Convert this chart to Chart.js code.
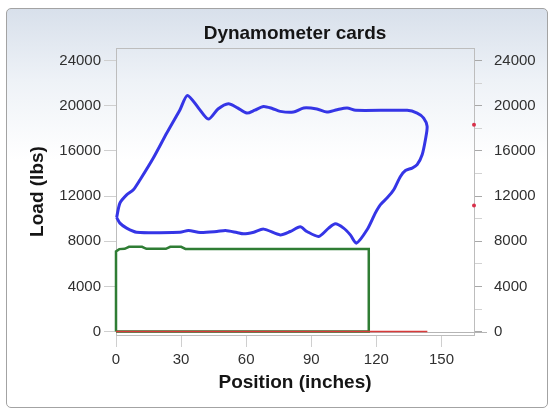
<!DOCTYPE html>
<html>
<head>
<meta charset="utf-8">
<title>Dynamometer cards</title>
<script src="https://cdn.jsdelivr.net/npm/chart.js@4.4.1/dist/chart.umd.min.js"></script>
<style>
  html, body { margin: 0; padding: 0; background: #ffffff; }
  #wrap { position: relative; width: 553px; height: 410px; overflow: hidden; }
  #panel {
    position: absolute; left: 6px; top: 8px; width: 540px; height: 398px;
    border: 1px solid #a3a3a3; border-radius: 5px;
    background: linear-gradient(to bottom, #d8e0eb 0%, #eef2f7 18%, #ffffff 38%, #ffffff 100%);
  }
  #chart { position: absolute; left: 0; top: 0; }
</style>
</head>
<body>
<div id="wrap">
  <div id="panel"></div>
  <canvas id="chart" width="553" height="410"></canvas>
</div>
<script>
    // Surface card (blue), traced around the loop
    const surfacePos = [0.3, 1.8, 4.9, 8.0, 11.1, 17.2, 23.4, 29.5, 32.9, 38.0, 42.6, 47.0, 51.8, 56.0,
        60.3, 64.0, 68.0, 72.0, 75.7, 81.8, 86.5, 92.6, 97.2, 101.9, 106.5, 110.5, 134.2, 138.8,
        141.8, 143.4, 142.6, 141.1, 138.8, 136.5, 133.4, 131.1, 128.0, 124.9, 121.8, 119.5, 115.7,
        110.8, 108.0, 104.9, 101.1, 98.0, 93.4, 88.0, 84.9, 80.3, 75.7, 68.0, 63.5, 58.8, 55.7,
        50.5, 46.5, 38.8, 33.4, 29.5, 9.5, 4.9, 1.8, 0.3];
    const surfaceLoad = [10100, 11370, 12100, 12550, 13440, 15360, 17570, 19640, 20900, 19800, 18810, 19700, 20170, 19800,
        19340, 19600, 19930, 19750, 19490, 19430, 19790, 19700, 19430, 19640, 19790, 19580, 19580, 19340,
        18900, 18160, 16980, 15650, 14770, 14470, 14260, 13730, 12550, 11820, 11220, 10490, 9010,
        7830, 8560, 9160, 9540, 9160, 8420, 8860, 9270, 8860, 8560, 9070, 8800, 8650, 8770,
        8950, 8860, 8770, 8950, 8800, 8800, 9160, 9600, 10100];

    // Pump card (green)
    const pumpPos = [0, 0, 1.5, 4, 6, 12, 14, 23, 25, 30, 32, 116.5, 116.5, 0];
    const pumpLoad = [0, 7100, 7300, 7330, 7500, 7500, 7330, 7330, 7500, 7500, 7320, 7320, 0, 0];

    // Red trace along zero load
    const redPos = [0, 143.5];
    const redLoad = [0, 0];

    // Red markers on the right edge
    const markerPos = [165, 165];
    const markerLoad = [18300, 11150];

    const xTicks = [0, 30, 60, 90, 120, 150];
    const yTicks = [0, 4000, 8000, 12000, 16000, 20000, 24000];

    const toPoints = (xs, ys) => xs.map((x, i) => ({ x: x, y: ys[i] }));

    // right axis: minor ticks every 1000, labels on the 4000 steps
    const yMinorTicks = [];
    for (let v = 0; v <= 25000; v += 1000) yMinorTicks.push(v);

    Chart.defaults.font.family = "'Liberation Sans', Arial, sans-serif";
    const tickFont = { size: 15 };
    const tickColor = "#303030";

    // frame around the plot and the zero line running past it
    const framePlugin = {
        id: "frame",
        beforeDatasetsDraw(chart) {
            const { ctx, chartArea } = chart;
            const y0 = chart.scales.y.getPixelForValue(0);
            ctx.save();
            ctx.strokeStyle = "#bdbdbd";
            ctx.lineWidth = 1;
            ctx.strokeRect(chartArea.left + 0.5, chartArea.top + 0.5,
                chartArea.right - chartArea.left, chartArea.bottom - chartArea.top);
            ctx.strokeStyle = "#b5b5b5";
            ctx.beginPath();
            ctx.moveTo(chartArea.left, Math.round(y0) + 0.5);
            ctx.lineTo(chartArea.right + 13, Math.round(y0) + 0.5);
            ctx.stroke();
            ctx.restore();
        },
        afterDraw(chart) {
            const { ctx, chartArea } = chart;
            ctx.save();
            ctx.fillStyle = "#151515";
            ctx.font = "bold 19px 'Liberation Sans', Arial, sans-serif";
            ctx.textAlign = "center";
            ctx.textBaseline = "middle";
            ctx.fillText("Dynamometer cards", (chartArea.left + chartArea.right) / 2, 34);
            ctx.restore();
        }
    };

    new Chart(document.getElementById("chart").getContext("2d"), {
        type: "scatter",
        data: {
            datasets: [
                {
                    label: "Markers",
                    data: toPoints(markerPos, markerLoad),
                    showLine: false,
                    pointRadius: 2,
                    pointBackgroundColor: "#d8304a",
                    pointBorderWidth: 0,
                    clip: false
                },
                {
                    label: "Zero",
                    data: toPoints(redPos, redLoad),
                    showLine: true,
                    borderColor: "#d83a3a",
                    borderWidth: 1.5,
                    pointRadius: 0
                },
                {
                    label: "Surface card",
                    data: toPoints(surfacePos, surfaceLoad),
                    showLine: true,
                    borderColor: "#3535e6",
                    borderWidth: 3,
                    tension: 0.25,
                    pointRadius: 0,
                    clip: 2
                },
                {
                    label: "Pump card",
                    data: toPoints(pumpPos, pumpLoad),
                    showLine: true,
                    borderColor: "#2f7d34",
                    borderWidth: 2.5,
                    pointRadius: 0,
                    clip: 3
                }
            ]
        },
        options: {
            responsive: false,
            animation: false,
            layout: { padding: { top: 48, left: 0, right: 0, bottom: 0 } },
            plugins: {
                legend: { display: false },
                tooltip: { enabled: false },
                title: { display: false }
            },
            scales: {
                x: {
                    type: "linear",
                    min: 0,
                    max: 165,
                    afterBuildTicks: s => { s.ticks = xTicks.map(v => ({ value: v })); },
                    afterFit: s => { s.height = 75; },
                    grid: { drawOnChartArea: false, tickLength: 12, color: "#cfcfcf" },
                    border: { display: false },
                    ticks: { padding: 4, font: tickFont, color: tickColor, callback: v => String(v) },
                    title: {
                        display: true,
                        text: "Position (inches)",
                        color: "#151515",
                        font: { size: 19, weight: "bold" },
                        padding: { top: 0, bottom: 16 }
                    }
                },
                y: {
                    type: "linear",
                    position: "left",
                    min: -300,
                    max: 25100,
                    afterBuildTicks: s => { s.ticks = yTicks.map(v => ({ value: v })); },
                    afterFit: s => { s.width = 116; },
                    grid: { drawOnChartArea: false, tickLength: 12, color: "#cfcfcf" },
                    border: { display: false },
                    ticks: { padding: 3, font: tickFont, color: tickColor, callback: v => String(v) },
                    title: {
                        display: true,
                        text: "Load (lbs)",
                        color: "#151515",
                        font: { size: 19, weight: "bold" },
                        padding: { top: 26, bottom: 0 }
                    }
                },
                y2: {
                    type: "linear",
                    position: "right",
                    min: -300,
                    max: 25100,
                    afterBuildTicks: s => { s.ticks = yMinorTicks.map(v => ({ value: v })); },
                    afterFit: s => { s.width = 79; },
                    grid: {
                        drawOnChartArea: false,
                        tickLength: 8,
                        tickColor: c => (c.tick && c.tick.value % 4000 === 0 ? "#a8a8a8" : "#d2d2d2")
                    },
                    border: { display: false },
                    ticks: {
                        padding: 12,
                        font: tickFont,
                        color: tickColor,
                        callback: v => (v % 4000 === 0 ? String(v) : "")
                    }
                }
            }
        },
        plugins: [framePlugin]
    });
</script>
</body>
</html>
